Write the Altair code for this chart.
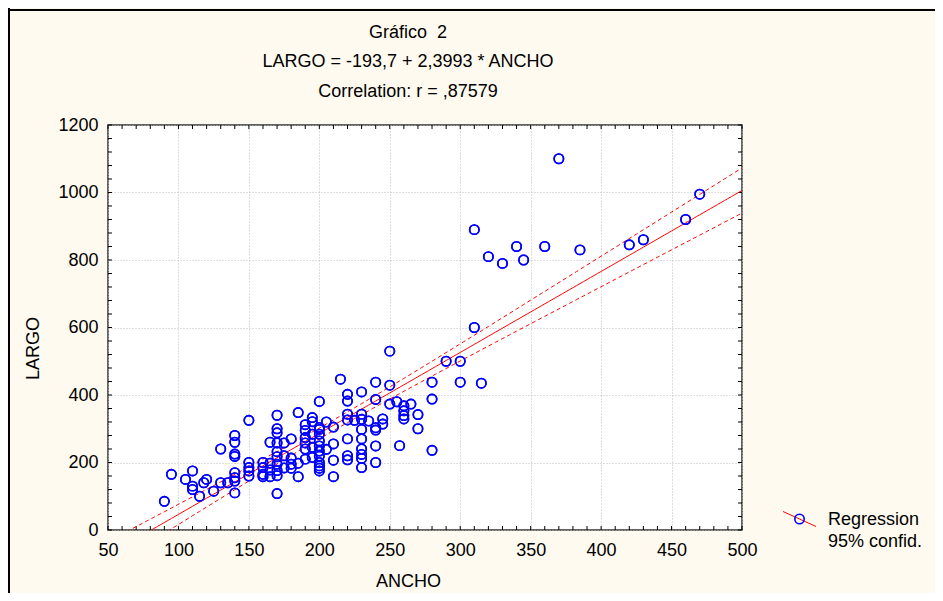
import altair as alt
import pandas as pd
import numpy as np

# ---- data ----
ancho = [90, 95, 105, 110, 110, 110, 115, 118, 120, 125, 130, 130, 135,
         140, 140, 140, 140, 140, 140, 140, 140,
         150, 150, 150, 150, 150,
         160, 160, 160, 160,
         165, 165, 165, 165,
         170, 170, 170, 170, 170, 170, 170, 170, 170, 170,
         175, 175, 175,
         180, 180, 180, 180,
         185, 185, 185,
         190, 190, 190, 190, 190, 190,
         195, 195, 195, 195, 195,
         200, 200, 200, 200, 200, 200, 200, 200, 200, 200, 200, 200,
         205, 205,
         210, 210, 210, 210,
         215,
         220, 220, 220, 220, 220, 220, 220,
         225,
         230, 230, 230, 230, 230, 230, 230, 230, 230,
         235,
         240, 240, 240, 240, 240, 240,
         245, 245,
         250, 250, 250,
         255, 257,
         260, 260, 260, 260,
         265,
         270, 270,
         280, 280, 280,
         290, 300, 300,
         310, 310, 315, 320, 330, 340, 345, 360, 370, 385, 420, 430, 460, 470]
largo = [85, 165, 150, 175, 130, 120, 100, 140, 150, 115, 240, 140, 140,
         280, 260, 225, 218, 170, 155, 145, 110,
         325, 200, 185, 175, 160,
         200, 185, 165, 158,
         260, 198, 178, 158,
         340, 300, 288, 258, 232, 217, 195, 176, 161, 108,
         258, 220, 184,
         270, 213, 195, 183,
         348, 198, 158,
         312, 295, 274, 258, 240, 210,
         333, 321, 284, 245, 215,
         381, 304, 298, 284, 264, 249, 234, 219, 200, 190, 183, 175,
         320, 239,
         305, 255, 207, 158,
         447,
         402, 382, 343, 326, 270, 220, 208,
         325,
         409, 343, 328, 298, 270, 240, 224, 212, 185,
         323,
         438, 387, 303, 296, 249, 200,
         329, 314,
         530, 429, 373,
         380, 250,
         368, 353, 339, 329,
         373,
         342, 300,
         438, 388, 236,
         500, 500, 438,
         600, 890, 435, 810, 790, 840, 800, 840, 1100, 830, 845, 860, 920, 995]

intercept = -193.7
slope = 2.3993
title_lines = ["Gráfico \u00a02", "LARGO = -193,7 + 2,3993 * ANCHO", "Correlation: r = ,87579"]
legend_lines = ["Regression", "95% confid."]

x_ticks = list(range(50, 501, 50))
y_ticks = list(range(0, 1201, 200))
x_minor = list(range(50, 501, 10))
y_minor = list(range(0, 1201, 40))

FONT = "Liberation Sans"
FS = 18
W, H = 634, 405

# ---- derived tables ----
pts = pd.DataFrame({"ANCHO": ancho, "LARGO": largo})
xa = np.array(ancho, float)
ya = np.array(largo, float)
n = len(xa)
xbar = xa.mean()
sxx = ((xa - xbar) ** 2).sum()
resid = ya - (intercept + slope * xa)
s = np.sqrt((resid ** 2).sum() / (n - 2))
tval = 1.97
xg = np.linspace(50, 500, 181)
fit = intercept + slope * xg
hw = tval * s * np.sqrt(1.0 / n + (xg - xbar) ** 2 / sxx)
curves = pd.DataFrame({
    "ANCHO": np.concatenate([xg, xg, xg]),
    "LARGO": np.concatenate([fit, fit + hw, fit - hw]),
    "kind": ["fit"] * len(xg) + ["up"] * len(xg) + ["lo"] * len(xg),
})

xs = alt.Scale(domain=[50, 500], nice=False, zero=False)
ys = alt.Scale(domain=[0, 1200], nice=False, zero=False)

xaxis = alt.Axis(values=x_ticks, format="d", grid=True, gridDash=[1, 2], gridColor="#BDBDBD",
                 domain=False, ticks=False, tickSize=0, labelFontSize=FS, labelFont=FONT,
                 labelColor="black", labelPadding=11, labelFlush=False,
                 title="ANCHO", titleFont=FONT,
                 titleFontSize=FS, titleFontWeight="normal", titleColor="black",
                 titleX=300, titleY=51, titleBaseline="middle")
yaxis = alt.Axis(values=y_ticks, format="d", grid=True, gridDash=[1, 2], gridColor="#BDBDBD",
                 domain=False, ticks=False, tickSize=0, labelFontSize=FS, labelFont=FONT,
                 labelColor="black", labelPadding=10, labelFlush=False,
                 title="LARGO", titleFont=FONT,
                 titleFontSize=FS, titleFontWeight="normal", titleColor="black",
                 titleX=-75, titleY=223, titleBaseline="middle", titleAngle=270)

MSIZE = 88
points = alt.Chart(pts).mark_point(shape="circle", filled=False, color="#0000FF",
                                   size=MSIZE, strokeWidth=1.6, opacity=1).encode(
    x=alt.X("ANCHO:Q", scale=xs, axis=xaxis),
    y=alt.Y("LARGO:Q", scale=ys, axis=yaxis),
)

fit_line = alt.Chart(curves).transform_filter(alt.datum.kind == "fit").mark_line(
    color="#FF0000", strokeWidth=1, clip=True).encode(
    x=alt.X("ANCHO:Q", scale=xs), y=alt.Y("LARGO:Q", scale=ys))
ci_lines = alt.Chart(curves).transform_filter(alt.datum.kind != "fit").mark_line(
    color="#FF0000", strokeWidth=1, strokeDash=[4, 3], clip=True).encode(
    x=alt.X("ANCHO:Q", scale=xs), y=alt.Y("LARGO:Q", scale=ys), detail="kind:N")

# inward tick marks on all four sides
xt = pd.DataFrame({"v": x_minor})
yt = pd.DataFrame({"v": y_minor})
tick_b = alt.Chart(xt).mark_rule(color="black", strokeWidth=1).encode(
    x=alt.X("v:Q", scale=xs), y=alt.value(H), y2=alt.value(H - 4))
tick_t = alt.Chart(xt).mark_rule(color="black", strokeWidth=1).encode(
    x=alt.X("v:Q", scale=xs), y=alt.value(0), y2=alt.value(4))
tick_l = alt.Chart(yt).mark_rule(color="black", strokeWidth=1).encode(
    y=alt.Y("v:Q", scale=ys), x=alt.value(0), x2=alt.value(4))
tick_r = alt.Chart(yt).mark_rule(color="black", strokeWidth=1).encode(
    y=alt.Y("v:Q", scale=ys), x=alt.value(W), x2=alt.value(W - 4))

one = pd.DataFrame({"a": [0]})
titles = []
for line, yy in zip(title_lines, [-92, -63, -33]):
    titles.append(alt.Chart(one).mark_text(text=line, font=FONT, fontSize=FS, color="black",
                                           align="center", baseline="middle").encode(
        x=alt.value(300), y=alt.value(yy)))

leg_line = alt.Chart(one).mark_rule(color="#FF0000", strokeWidth=1).encode(
    x=alt.value(675), x2=alt.value(708), y=alt.value(386.5), y2=alt.value(401.5))
leg_pt = alt.Chart(one).mark_point(shape="circle", filled=False, color="#0000FF", size=MSIZE,
                                   strokeWidth=1.6, opacity=1).encode(
    x=alt.value(691.5), y=alt.value(394))
leg_txt = []
for line, yy in zip(legend_lines, [395, 416.5]):
    leg_txt.append(alt.Chart(one).mark_text(text=line, font=FONT, fontSize=FS, color="black",
                                            align="left", baseline="middle").encode(
        x=alt.value(720), y=alt.value(yy)))

border_l = alt.Chart(one).mark_rule(color="black", strokeWidth=2).encode(
    x=alt.value(-99), y=alt.value(-117), y2=alt.value(H + 63))
border_t = alt.Chart(one).mark_rule(color="black", strokeWidth=2).encode(
    y=alt.value(-115), x=alt.value(-100), x2=alt.value(W + 193))

chart = alt.layer(
    points, tick_b, tick_t, tick_l, tick_r, ci_lines, fit_line, points,
    *titles, leg_line, leg_pt, *leg_txt, border_l, border_t
).properties(
    width=W, height=H,
    padding={"left": 100, "top": 117, "right": 193, "bottom": 63},
    autosize=alt.AutoSizeParams(type="none"),
    background="#FFFAEF",
).configure_view(stroke="#303030", strokeWidth=1.5, fill="white")

chart.save("out.html", embed_options={"renderer": "svg", "actions": False})
